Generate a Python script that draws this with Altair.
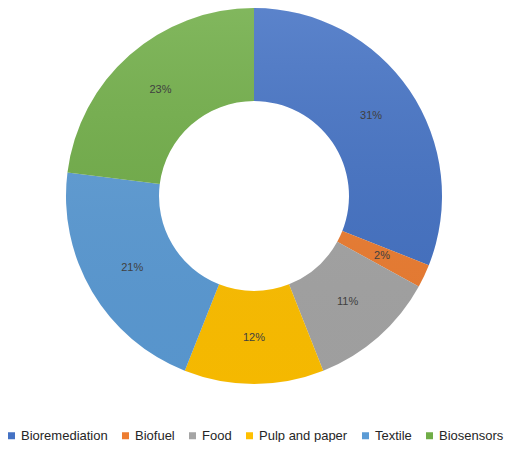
import altair as alt
import pandas as pd

categories = ["Bioremediation", "Biofuel", "Food", "Pulp and paper", "Textile", "Biosensors"]
values = [31, 2, 11, 12, 21, 23]
labels = ["31%", "2%", "11%", "12%", "21%", "23%"]
colors = ["#4472C4", "#ED7D31", "#A5A5A5", "#FFC000", "#5B9BD5", "#70AD47"]

df = pd.DataFrame({"category": categories, "value": values, "label": labels,
                   "order": list(range(len(categories)))})

INNER, OUTER = 95, 188
CX, CY = 246, 188

base = alt.Chart(df).encode(
    theta=alt.Theta("value:Q", stack=True),
    order=alt.Order("order:Q"),
    x=alt.value(CX),
    y=alt.value(CY),
)

arcs = base.mark_arc(innerRadius=INNER, outerRadius=OUTER).encode(
    color=alt.Color(
        "category:N",
        scale=alt.Scale(domain=categories, range=colors),
        sort=categories,
        legend=alt.Legend(
            title=None, orient="none", direction="horizontal",
            legendX=-3, legendY=421, symbolType="square", symbolSize=49,
            symbolStrokeWidth=0, labelFontSize=13, labelFont="Liberation Sans",
            labelColor="#262626", columnPadding=11, labelOffset=3, padding=0,
        ),
    )
)

shade = alt.Chart(pd.DataFrame({"a": [0]})).mark_arc(
    theta=0, theta2=6.2832, innerRadius=INNER, outerRadius=OUTER,
    fill=alt.Gradient(
        gradient="linear",
        stops=[alt.GradientStop(color="rgba(255,255,255,0.12)", offset=0),
               alt.GradientStop(color="rgba(0,0,0,0.04)", offset=1)],
        x1=0, x2=0, y1=0, y2=1,
    ),
).encode(x=alt.value(CX), y=alt.value(CY))

text = base.mark_text(radius=(INNER + OUTER) / 2, fontSize=11,
                      font="Liberation Sans", color="#404040").encode(text="label:N")

chart = alt.layer(arcs, shade, text).properties(
    width=496, height=434,
    autosize=alt.AutoSizeParams(type="none"),
    padding=0,
).configure_view(stroke=None)

chart.save("out.html", embed_options={"renderer": "svg", "actions": False})
